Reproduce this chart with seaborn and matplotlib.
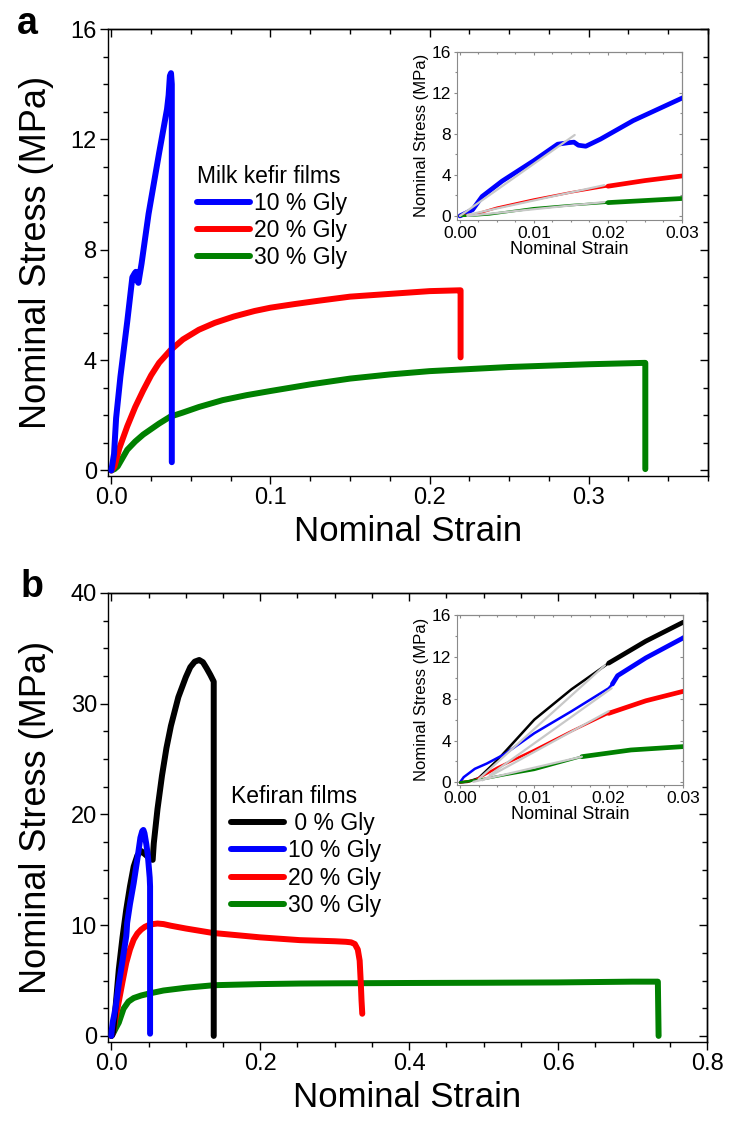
import numpy as np
import pandas as pd
import seaborn as sns
import matplotlib.pyplot as plt
from matplotlib.ticker import MultipleLocator, FormatStrFormatter

sns.set_style("ticks")
plt.rcParams["font.family"] = ["Liberation Sans", "DejaVu Sans"]
plt.rcParams["text.color"] = "black"
plt.rcParams["axes.labelcolor"] = "black"
plt.rcParams["xtick.labelcolor"] = "black"
plt.rcParams["ytick.labelcolor"] = "black"

########################################################################
# (a) milk kefir films
########################################################################
a_title = "Milk kefir films"
a_labels = ["10 % Gly", "20 % Gly", "30 % Gly"]
a_colors = ["#0000ff", "#ff0000", "#008000"]

a10_strain = [0.0, 0.0017, 0.003, 0.0057, 0.010, 0.0132, 0.0147, 0.0154, 0.0160, 0.0170,
              0.019, 0.0234, 0.030, 0.0350, 0.0360, 0.0368, 0.0375, 0.0380, 0.0380]
a10_stress = [0.0, 0.6, 1.9, 3.4, 5.4, 7.0, 7.15, 7.2, 6.9, 6.8,
              7.5, 9.3, 11.5, 13.1, 13.6, 14.3, 14.4, 14.0, 0.3]

a20_strain = [0.0, 0.002, 0.005, 0.010, 0.015, 0.020, 0.025, 0.030, 0.037, 0.045, 0.055,
              0.065, 0.077, 0.090, 0.100, 0.115, 0.130, 0.150, 0.175, 0.200, 0.219,
              0.2195, 0.2195]
a20_stress = [0.0, 0.15, 0.8, 1.6, 2.3, 2.9, 3.45, 3.9, 4.35, 4.75, 5.1,
              5.35, 5.58, 5.78, 5.9, 6.03, 6.15, 6.3, 6.4, 6.5, 6.53,
              6.53, 4.1]

a30_strain = [0.0, 0.002, 0.004, 0.007, 0.010, 0.015, 0.020, 0.025, 0.030, 0.037, 0.045,
              0.055, 0.070, 0.085, 0.100, 0.125, 0.150, 0.175, 0.200, 0.250, 0.300,
              0.335, 0.3356, 0.3356]
a30_stress = [0.0, 0.05, 0.15, 0.45, 0.75, 1.05, 1.3, 1.5, 1.7, 1.95, 2.1,
              2.3, 2.55, 2.73, 2.88, 3.12, 3.33, 3.48, 3.6, 3.75, 3.85,
              3.9, 3.9, 0.05]

# grey linear fits in the inset
a10_fit_x, a10_fit_y = [0.0, 0.0155], [0.0, 7.9]
a20_fit_x, a20_fit_y = [0.001, 0.0195], [0.1, 3.0]
a30_fit_x, a30_fit_y = [0.001, 0.0195], [0.0, 1.35]

########################################################################
# (b) kefiran films
########################################################################
b_title = "Kefiran films"
b_labels = [" 0 % Gly", "10 % Gly", "20 % Gly", "30 % Gly"]
b_colors = ["#000000", "#0000ff", "#ff0000", "#008000"]

b0_strain = [0.0, 0.001, 0.0025, 0.005, 0.010, 0.015, 0.020, 0.025, 0.030, 0.035, 0.040,
             0.047, 0.052, 0.0555, 0.057, 0.062, 0.068, 0.074, 0.080, 0.090, 0.100,
             0.106, 0.112, 0.118, 0.123, 0.128, 0.133, 0.1375, 0.1375]
b0_stress = [0.0, 0.05, 0.4, 2.1, 6.0, 8.9, 11.4, 13.5, 15.3, 16.3, 16.7,
             16.3, 16.0, 15.9, 17.4, 20.5, 23.5, 26.0, 28.0, 30.6, 32.4,
             33.3, 33.8, 33.95, 33.75, 33.2, 32.6, 32.0, 0.0]

b10_strain = [0.0, 0.0005, 0.002, 0.0036, 0.006, 0.010, 0.015, 0.020, 0.0205, 0.0212,
              0.025, 0.030, 0.035, 0.039, 0.0415, 0.043, 0.0445, 0.047, 0.049, 0.0515,
              0.052, 0.052]
b10_stress = [0.0, 0.5, 1.3, 1.8, 2.7, 4.7, 6.8, 9.0, 9.4, 10.2,
              11.9, 13.8, 16.0, 17.9, 18.5, 18.6, 18.3, 17.3, 16.3, 14.3,
              13.5, 0.2]

b20_strain = [0.0, 0.002, 0.005, 0.010, 0.015, 0.020, 0.025, 0.030, 0.035, 0.040, 0.045,
              0.050, 0.056, 0.062, 0.070, 0.080, 0.100, 0.136, 0.200, 0.253, 0.300,
              0.315, 0.322, 0.327, 0.331, 0.3335, 0.335, 0.336, 0.337]
b20_stress = [0.0, 0.2, 1.4, 3.1, 4.9, 6.6, 7.8, 8.7, 9.25, 9.6, 9.85,
              10.0, 10.1, 10.15, 10.1, 9.95, 9.7, 9.3, 8.9, 8.65, 8.55,
              8.5, 8.45, 8.3, 7.8, 6.8, 4.8, 3.2, 2.0]

b30_strain = [0.0, 0.003, 0.006, 0.010, 0.0164, 0.023, 0.030, 0.040, 0.051, 0.070, 0.100,
              0.138, 0.200, 0.253, 0.300, 0.400, 0.500, 0.600, 0.700, 0.734, 0.735]
b30_stress = [0.0, 0.3, 0.7, 1.2, 2.46, 3.1, 3.42, 3.65, 3.83, 4.1, 4.35,
              4.58, 4.68, 4.73, 4.75, 4.78, 4.8, 4.83, 4.9, 4.9, 0.0]

b0_fit_x, b0_fit_y = [0.0025, 0.0195], [0.3, 11.2]
b10_fit_x, b10_fit_y = [0.004, 0.0204], [0.7, 9.0]
b20_fit_x, b20_fit_y = [0.003, 0.020], [0.2, 6.8]
b30_fit_x, b30_fit_y = [0.0018, 0.0164], [0.06, 2.46]

a_series = [(a10_strain, a10_stress), (a20_strain, a20_stress), (a30_strain, a30_stress)]
a_fits = [(a10_fit_x, a10_fit_y), (a20_fit_x, a20_fit_y), (a30_fit_x, a30_fit_y)]
a_thick_from = [0.0, 0.0195, 0.0195]
a_z = [3, 2.2, 2.1]

b_series = [(b0_strain, b0_stress), (b10_strain, b10_stress),
            (b20_strain, b20_stress), (b30_strain, b30_stress)]
b_fits = [(b0_fit_x, b0_fit_y), (b10_fit_x, b10_fit_y),
          (b20_fit_x, b20_fit_y), (b30_fit_x, b30_fit_y)]
b_thick_from = [0.0195, 0.0204, 0.020, 0.0164]
b_z = [2.5, 2.6, 2.2, 2.1]

FIT_GREY = "#c8c8c8"
INSET_EDGE = "#8a8a8a"

W, H = 736, 1125
fig = plt.figure(figsize=(W / 100, H / 100), dpi=100)


def px_axes(l, t, r, b):
    return fig.add_axes([l / W, 1 - b / H, (r - l) / W, (b - t) / H])


def line(ax, x, y, color, lw, label=None, z=2):
    sns.lineplot(x=x, y=y, ax=ax, color=color, lw=lw, sort=False, estimator=None,
                 label=label, legend=False, zorder=z,
                 solid_capstyle="round", solid_joinstyle="round")


def mirror(ax, xmaj, xmin, ymaj, ymin, lens, color, lw):
    top = ax.secondary_xaxis("top")
    top.xaxis.set_major_locator(MultipleLocator(xmaj))
    top.xaxis.set_minor_locator(MultipleLocator(xmin))
    top.tick_params(which="both", direction="in", labeltop=False, color=color, width=lw)
    top.tick_params(which="major", length=lens[0])
    top.tick_params(which="minor", length=lens[1])
    top.spines["top"].set_color(color)
    top.spines["top"].set_linewidth(lw)
    right = ax.secondary_yaxis("right")
    right.yaxis.set_major_locator(MultipleLocator(ymaj))
    right.yaxis.set_minor_locator(MultipleLocator(ymin))
    right.tick_params(which="both", direction="in", labelright=False, color=color, width=lw)
    right.tick_params(which="major", length=lens[0])
    right.tick_params(which="minor", length=lens[1])
    right.spines["right"].set_color(color)
    right.spines["right"].set_linewidth(lw)


def style(ax, xlim, ylim, xmaj, xmin, ymaj, ymin, xfmt, size, lens, color, lw):
    ax.set_xlim(*xlim)
    ax.set_ylim(*ylim)
    ax.xaxis.set_major_locator(MultipleLocator(xmaj))
    ax.xaxis.set_minor_locator(MultipleLocator(xmin))
    ax.yaxis.set_major_locator(MultipleLocator(ymaj))
    ax.yaxis.set_minor_locator(MultipleLocator(ymin))
    ax.xaxis.set_major_formatter(FormatStrFormatter(xfmt))
    ax.yaxis.set_major_formatter(FormatStrFormatter("%d"))
    ax.tick_params(which="both", direction="out", top=False, right=False,
                   labelsize=size, color=color, width=lw, pad=2, labelcolor="black")
    ax.tick_params(which="major", length=lens[0])
    ax.tick_params(which="minor", length=lens[1])
    for s in ax.spines.values():
        s.set_color(color)
        s.set_linewidth(lw)
    mirror(ax, xmaj, xmin, ymaj, ymin, lens, color, lw)


def main_panel(ax, series, colors, labels, zs, title, leg_xy, xlim, ylim,
               xmaj, xmin, ymaj, ymin):
    for (x, y), c, lab, z in zip(series, colors, labels, zs):
        line(ax, x, y, c, 4.3, label=lab, z=z)
    style(ax, xlim, ylim, xmaj, xmin, ymaj, ymin, "%.1f", 17, (6, 3.5), "black", 1.0)
    ax.set_xlabel("Nominal Strain", fontsize=25, labelpad=4)
    ax.set_ylabel("Nominal Stress (MPa)", fontsize=26, labelpad=12)
    ax.legend(title=title, loc="upper left", bbox_to_anchor=leg_xy, frameon=False,
              fontsize=16.5, title_fontsize=16.5, handlelength=2.3, handletextpad=0.2,
              labelspacing=0.18, borderpad=0, borderaxespad=0, alignment="left")


def inset_panel(ax, series, colors, fits, thick_from):
    for (x, y), c, (fx, fy), t0 in zip(series, colors, fits, thick_from):
        df = pd.DataFrame({"strain": x, "stress": y})
        line(ax, df["strain"], df["stress"], c, 1.8)
        part = df[df["strain"] >= t0]
        line(ax, part["strain"], part["stress"], c, 3.4)
        line(ax, fx, fy, FIT_GREY, 1.6, z=3)
    ax.set_xlabel("Nominal Strain", fontsize=13, labelpad=0)
    ax.set_ylabel("Nominal Stress (MPa)", fontsize=12, labelpad=2)


# ---------------- panel a ----------------
axA = px_axes(108, 29, 708, 476)
main_panel(axA, a_series, a_colors, a_labels, a_z, a_title, (0.148, 0.696),
           (-0.0021, 0.375), (-0.2, 16), 0.1, 0.025, 4, 1)

insA = px_axes(457, 52, 682, 219.5)
inset_panel(insA, a_series, a_colors, a_fits, a_thick_from)
style(insA, (-0.0004, 0.03), (-0.35, 16), 0.01, 0.0025, 4, 2, "%.2f", 12.5,
      (2.5, 1.5), INSET_EDGE, 0.8)

# ---------------- panel b ----------------
axB = px_axes(108, 593, 707, 1042)
main_panel(axB, b_series, b_colors, b_labels, b_z, b_title, (0.205, 0.572),
           (-0.0045, 0.8), (-0.55, 40), 0.2, 0.05, 10, 2.5)

insB = px_axes(457, 615, 683, 784.5)
inset_panel(insB, b_series, b_colors, b_fits, b_thick_from)
style(insB, (-0.0004, 0.03), (-0.2, 16), 0.01, 0.0025, 4, 2, "%.2f", 12.5,
      (2.5, 1.5), INSET_EDGE, 0.8)

fig.text(27 / W, 1 - 24 / H, "a", fontsize=27, fontweight="bold", ha="center", va="center")
fig.text(32 / W, 1 - 587 / H, "b", fontsize=27, fontweight="bold", ha="center", va="center")

fig.savefig("out.png", dpi=100)
